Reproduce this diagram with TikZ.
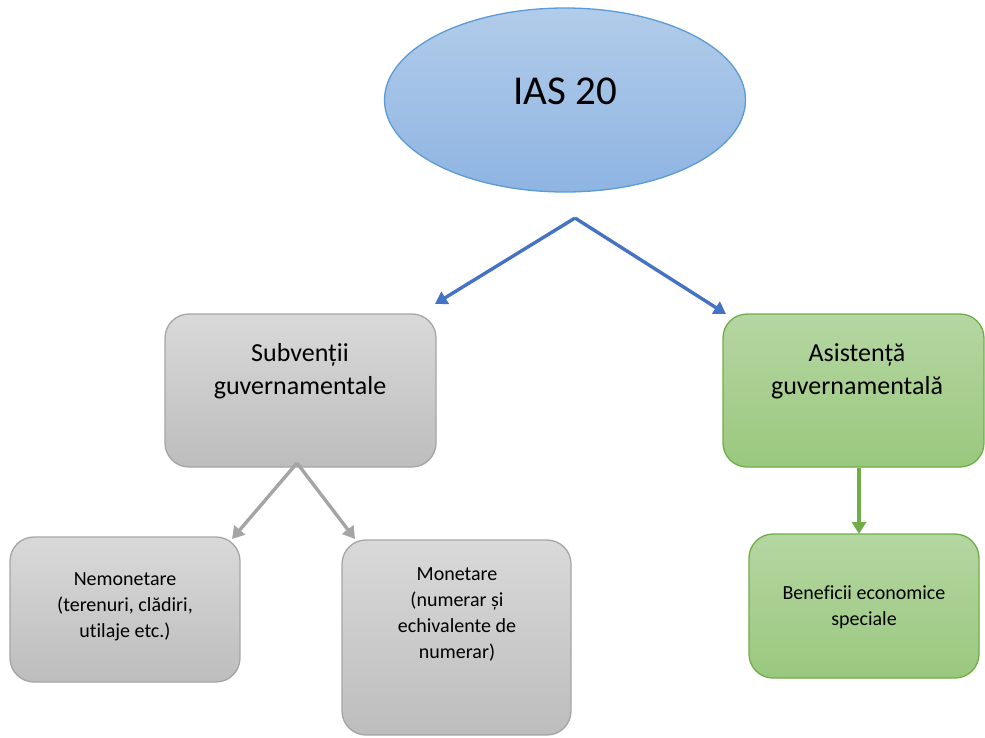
\documentclass[tikz,border=0pt]{standalone}
\usepackage{fontspec}
\setmainfont[Ligatures=NoCommon]{Carlito}
\usetikzlibrary{arrows.meta,shapes.geometric}

\definecolor{ellTop}{HTML}{B2CCEA}
\definecolor{ellBot}{HTML}{8EB4E2}
\definecolor{ellLine}{HTML}{5B9BD5}
\definecolor{greyTop}{HTML}{D9D9D9}
\definecolor{greyBot}{HTML}{BDBDBD}
\definecolor{greyLine}{HTML}{A5A5A5}
\definecolor{greenTop}{HTML}{B5D6A2}
\definecolor{greenBot}{HTML}{9AC87E}
\definecolor{greenLine}{HTML}{70AD47}
\definecolor{arrBlue}{HTML}{4472C4}

\tikzset{
  greybox/.style={draw=greyLine, line width=1.3pt, rounded corners=24pt,
    top color=greyTop, bottom color=greyBot, inner sep=0pt},
  greenbox/.style={draw=greenLine, line width=1.3pt, rounded corners=24pt,
    top color=greenTop, bottom color=greenBot, inner sep=0pt},
  bigtext/.style={align=center, font=\fontsize{26}{33}\selectfont, inner sep=0pt},
  smalltext/.style={align=center, font=\fontsize{20}{26}\selectfont, inner sep=0pt},
  tipstyle/.style={-{Triangle[length=12pt,width=14pt]}},
  bluearrow/.style={tipstyle, draw=arrBlue, fill=arrBlue, line width=3.4pt},
  greyarrow/.style={tipstyle, draw=greyLine, fill=greyLine, line width=3.4pt},
  greenarrow/.style={tipstyle, draw=greenLine, fill=greenLine, line width=3.4pt},
}

\begin{document}
\begin{tikzpicture}[x=1pt, y=-1pt]
  \useasboundingbox (0,0) rectangle (985,737);

  % top ellipse
  \node[ellipse, draw=ellLine, line width=1.3pt, top color=ellTop, bottom color=ellBot,
        minimum width=361pt, minimum height=184pt, inner sep=0pt] (ias) at (565,100) {};
  \node[font=\fontsize{41}{48}\selectfont, inner sep=0pt] (iastext) at (565,91) {IAS 20};

  % second level boxes
  \node[greybox, minimum width=271pt, minimum height=153pt] (subv) at (300.5,390.5) {};
  \node[bigtext] (subvtext) at (300,371) {Subvenții\\guvernamentale};

  \node[greenbox, minimum width=261pt, minimum height=153pt] (asist) at (853.5,390.5) {};
  \node[bigtext] (asisttext) at (857,371) {Asistență\\guvernamentală};

  % third level boxes
  \node[greybox, minimum width=230pt, minimum height=145pt] (nemon) at (125,609.5) {};
  \node[smalltext] (nemontext) at (125,607) {Nemonetare\\(terenuri, clădiri,\\utilaje etc.)};

  \node[greybox, minimum width=229pt, minimum height=195pt] (mon) at (456.5,637.5) {};
  \node[smalltext] (montext) at (457,614) {Monetare\\(numerar și\\echivalente de\\numerar)};

  \node[greenbox, minimum width=230pt, minimum height=144pt] (benef) at (864,606) {};
  \node[smalltext] (beneftext) at (864,607) {Beneficii economice\\speciale};

  % connector end points
  \coordinate (jtop) at (575,218);
  \coordinate (tipsubv) at (435,304);
  \coordinate (tipasist) at (726,314);
  \coordinate (jsubv) at (297,463);
  \coordinate (tipnemon) at (232,539);
  \coordinate (tipmon) at (355,539);
  \coordinate (jasist) at (859,468);
  \coordinate (tipbenef) at (859,534);

  % connectors
  \draw[bluearrow] (jtop) -- (tipsubv);
  \draw[bluearrow] (jtop) -- (tipasist);
  \draw[greyarrow] (jsubv) -- (tipnemon);
  \draw[greyarrow] (jsubv) -- (tipmon);
  \draw[greenarrow] (jasist) -- (tipbenef);
\end{tikzpicture}
\end{document}
